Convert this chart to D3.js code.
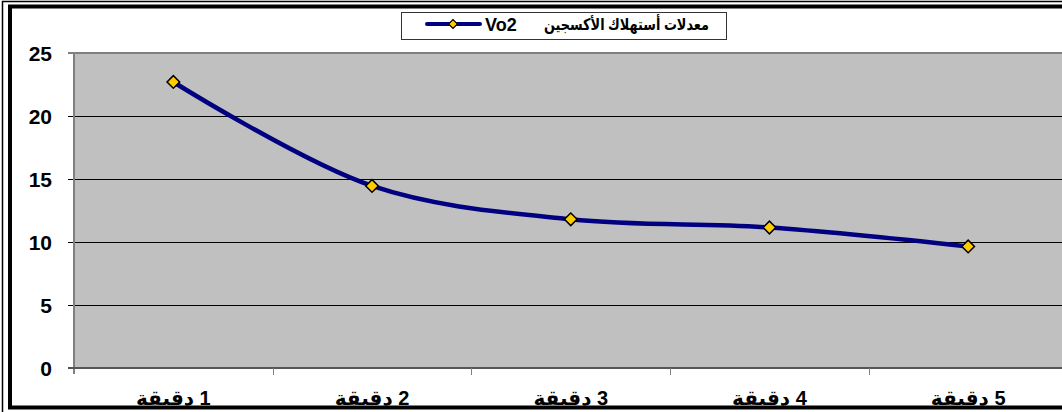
<!DOCTYPE html>
<html>
<head>
<meta charset="utf-8">
<script src="https://cdn.jsdelivr.net/npm/d3@7"></script>
<style>
    body { margin: 0; background: #fff; }
    text { font-family: "Liberation Sans", Arial, "DejaVu Sans", sans-serif; font-weight: bold; }
</style>
</head>
<body>
<div id="chart"></div>
<script>
var categories = ["1 دقيقة", "2 دقيقة", "3 دقيقة", "4 دقيقة", "5 دقيقة"];
var vo2 = [22.7, 14.45, 11.8, 11.15, 9.65];
var yTicks = [0, 5, 10, 15, 20, 25];
var seriesName = "معدلات أستهلاك الأكسجين";
var seriesCode = "Vo2";

var width = 1062,
    height = 412;

var svg = d3.select("#chart")
    .append("svg")
    .attr("width", width)
    .attr("height", height);

// plot area runs past the right edge like the original
var x = d3.scaleBand()
    .domain(categories)
    .range([74, 1067.5]);

var y = d3.scaleLinear()
    .domain([0, 25])
    .range([368, 53]);

svg.append("rect")
    .attr("x", x.range()[0])
    .attr("y", y(25))
    .attr("width", x.range()[1] - x.range()[0])
    .attr("height", y(0) - y(25))
    .style("fill", "#c0c0c0");

// gridlines + left ticks
svg.selectAll(".grid")
    .data(yTicks.filter(d => d > 0 && d < 25))
    .enter()
    .append("line")
    .attr("x1", 68)
    .attr("x2", width)
    .attr("y1", d => Math.round(y(d)) + 0.5)
    .attr("y2", d => Math.round(y(d)) + 0.5)
    .style("stroke", "#000")
    .style("stroke-width", 1);

// plot border (top + left), axis line
svg.append("line")
    .attr("x1", 68).attr("x2", width)
    .attr("y1", y(25)).attr("y2", y(25))
    .style("stroke", "#808080").style("stroke-width", 2);
svg.append("line")
    .attr("x1", x.range()[0]).attr("x2", x.range()[0])
    .attr("y1", y(25)).attr("y2", y(0) + 6)
    .style("stroke", "#808080").style("stroke-width", 2);
svg.append("line")
    .attr("x1", 68).attr("x2", width)
    .attr("y1", y(0)).attr("y2", y(0))
    .style("stroke", "#555").style("stroke-width", 2);

// x ticks at band edges
svg.selectAll(".xtick")
    .data(categories.slice(1))
    .enter()
    .append("line")
    .attr("x1", d => Math.round(x(d)) + 0.5)
    .attr("x2", d => Math.round(x(d)) + 0.5)
    .attr("y1", y(0))
    .attr("y2", y(0) + 7)
    .style("stroke", "#808080");

svg.selectAll(".ylabel")
    .data(yTicks)
    .enter()
    .append("text")
    .attr("x", 52)
    .attr("y", d => y(d))
    .attr("dy", "0.36em")
    .attr("text-anchor", "end")
    .style("font-size", "21px")
    .text(d => d);

svg.selectAll(".xlabel")
    .data(categories)
    .enter()
    .append("text")
    .attr("x", d => x(d) + x.bandwidth() / 2)
    .attr("y", 405)
    .attr("text-anchor", "middle")
    .attr("direction", "rtl")
    .style("font-size", "20px")
    .text(d => d);

var line = d3.line()
    .x((d, i) => x(categories[i]) + x.bandwidth() / 2)
    .y(d => y(d))
    .curve(d3.curveCatmullRom.alpha(0.5));

svg.append("path")
    .datum(vo2)
    .attr("d", line)
    .style("fill", "none")
    .style("stroke", "#000080")
    .style("stroke-width", 4.5);

var diamond = d3.symbol().type(d3.symbolSquare).size(80);

svg.selectAll(".marker")
    .data(vo2)
    .enter()
    .append("path")
    .attr("d", diamond)
    .attr("transform", (d, i) => "translate(" + (x(categories[i]) + x.bandwidth() / 2) + "," + y(d) + ") rotate(45)")
    .style("fill", "#ffcc00")
    .style("stroke", "#000")
    .style("stroke-width", 1.5);

// legend
var legend = svg.append("g");
legend.append("rect")
    .attr("x", 401.5).attr("y", 12.5)
    .attr("width", 325).attr("height", 27)
    .style("fill", "#fff")
    .style("stroke", "#333");
legend.append("line")
    .attr("x1", 427).attr("x2", 480)
    .attr("y1", 24).attr("y2", 24)
    .style("stroke", "#000080")
    .style("stroke-width", 4)
    .style("stroke-linecap", "round");
legend.append("path")
    .attr("d", d3.symbol().type(d3.symbolSquare).size(40))
    .attr("transform", "translate(453,24) rotate(45)")
    .style("fill", "#ffcc00")
    .style("stroke", "#000")
    .style("stroke-width", 1.2);
legend.append("text")
    .attr("x", 485).attr("y", 31)
    .style("font-size", "18px")
    .text(seriesCode);
legend.append("text")
    .attr("x", 544).attr("y", 30)
    .attr("textLength", 165)
    .attr("lengthAdjust", "spacingAndGlyphs")
    .style("font-size", "16px")
    .text(seriesName);

// double frame, cut off on the right
var frame = svg.append("g").style("fill", "none").style("stroke", "#000");
frame.append("path")
    .attr("d", "M" + width + ",1.5 H2.5 V" + height)
    .style("stroke-width", 1.5);
frame.append("path")
    .attr("d", "M" + width + ",6.5 H10 V407.5 H" + width)
    .style("stroke-width", 4);
</script>
</body>
</html>
